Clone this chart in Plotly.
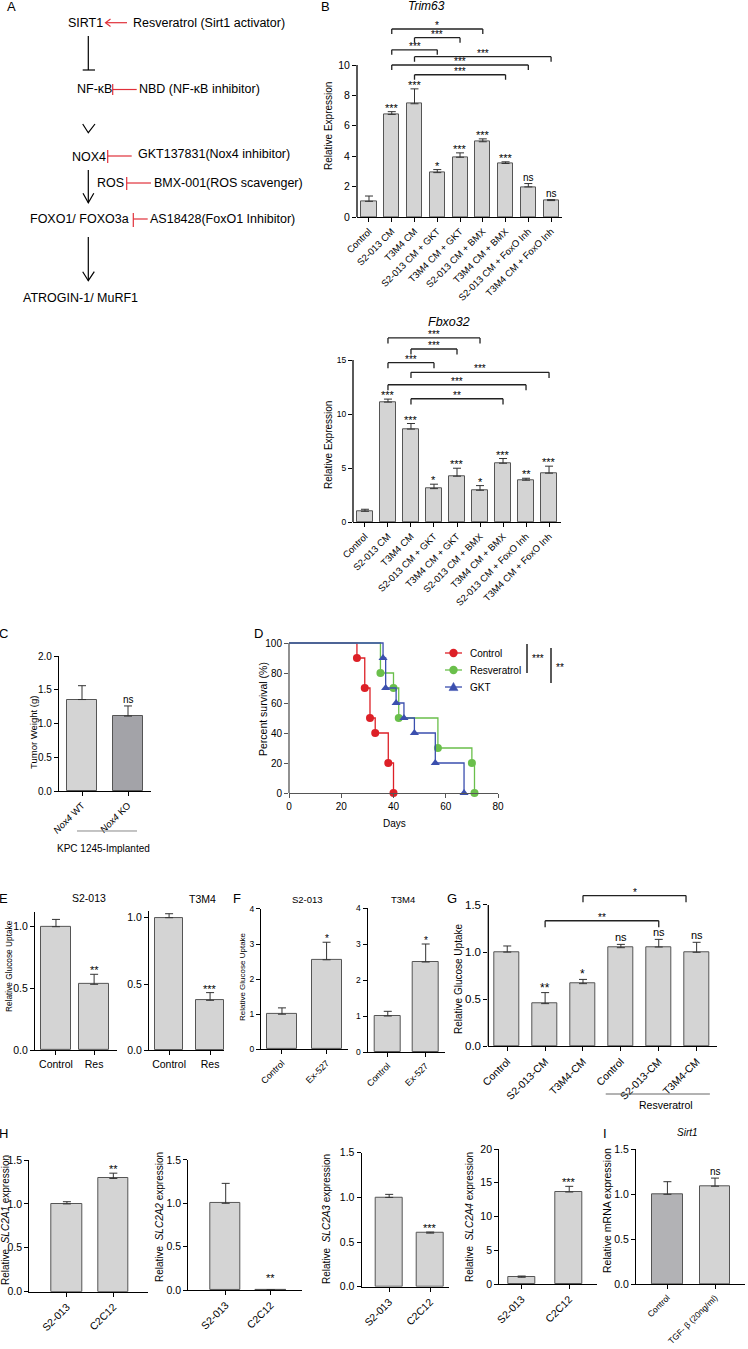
import plotly.graph_objects as go

W, H = 748, 1349
FONT = "Arial, Liberation Sans, Helvetica, sans-serif"

# ---------------- DATA ----------------
# Panel B
b_groups = ["Control", "S2-013 CM", "T3M4 CM", "S2-013 CM + GKT", "T3M4 CM + GKT",
            "S2-013 CM + BMX", "T3M4 CM + BMX", "S2-013 CM + FoxO Inh", "T3M4 CM + FoxO Inh"]
trim63_mean = [1.03, 6.75, 7.45, 2.92, 3.93, 4.95, 3.52, 1.98, 1.08]
trim63_err = [0.35, 0.18, 0.98, 0.20, 0.29, 0.19, 0.11, 0.22, 0.06]
trim63_sig = ["", "***", "***", "*", "***", "***", "***", "ns", "ns"]
trim63_pairs = [(1, 5, 12.37, "*"), (2, 4, 11.8, "***"), (1, 3, 11.0, "***"),
                (2, 8, 10.55, "***"), (1, 7, 10.0, "***"), (2, 6, 9.36, "***")]
fbxo32_mean = [0.99, 11.1, 8.6, 3.09, 4.24, 2.94, 5.44, 3.87, 4.52]
fbxo32_err = [0.19, 0.28, 0.52, 0.41, 0.74, 0.43, 0.44, 0.18, 0.65]
fbxo32_sig = ["", "***", "***", "*", "***", "*", "***", "**", "***"]
fbxo32_pairs = [(1, 5, 17.04, "***"), (2, 4, 16.02, "***"), (1, 3, 14.75, "***"),
                (2, 8, 13.86, "***"), (1, 7, 12.71, "***"), (2, 6, 11.41, "**")]
# Panel C
c_groups = ["<i>Nox4</i> WT", "<i>Nox4</i> KO"]
c_mean = [1.355, 1.11]
c_err = [0.205, 0.15]
c_sig = ["", "ns"]
# Panel D (Kaplan-Meier events)
d_names = ["Control", "Resveratrol", "GKT"]
d_days = [[26, 29, 31, 33, 38, 40],
          [35, 40, 42, 57, 70, 71],
          [36, 37, 41, 44, 48, 56, 67]]
d_surv = [[90, 70, 50, 40, 20, 0],
          [80, 70, 50, 30, 20, 0],
          [90, 70, 60, 50, 40, 20, 0]]
d_xticks = [0, 20, 40, 60, 80]
d_yticks = [0, 20, 40, 60, 80, 100]
# Panel E
e_groups = ["Control", "Res"]
e_s2_mean = [1.0, 0.534]
e_s2_err = [0.059, 0.081]
e_s2_sig = ["", "**"]
e_t3_mean = [1.0, 0.377]
e_t3_err = [0.03, 0.058]
e_t3_sig = ["", "***"]
# Panel F
f_groups = ["Control", "Ex-527"]
f_s2_mean = [1.0, 2.55]
f_s2_err = [0.18, 0.50]
f_t3_mean = [1.0, 2.50]
f_t3_err = [0.13, 0.50]
f_sig = ["", "*"]
# Panel G
g_groups = ["Control", "S2-013-CM", "T3M4-CM", "Control", "S2-013-CM", "T3M4-CM"]
g_mean = [1.0, 0.453, 0.665, 1.047, 1.054, 0.998]
g_err = [0.065, 0.117, 0.045, 0.035, 0.081, 0.106]
g_sig = ["", "**", "*", "ns", "ns", "ns"]
g_pairs = [(1, 4, 1.333, "**"), (2, 4.72, 1.60, "*")]
# Panel H
h_groups = ["S2-013", "C2C12"]
h1_mean, h1_err, h1_sig = [1.0, 1.29], [0.025, 0.06], ["", "**"]
h2_mean, h2_err, h2_sig = [1.0, 0.003], [0.23, 0.0], ["", "**"]
h3_mean, h3_err, h3_sig = [1.0, 0.60], [0.034, 0.012], ["", "***"]
h4_mean, h4_err, h4_sig = [1.0, 13.63], [0.18, 0.84], ["", "***"]
# Panel I
i_groups = ["Control", "TGF- β (20ng/ml)"]
i_mean = [1.0, 1.09]
i_err = [0.14, 0.09]
i_sig = ["", "ns"]

# ---------------- HELPERS ----------------
BAR = "#d4d4d4"
BAR_DARK = "#a3a3a8"
EDGE = "#555555"
layout_axes = {}
shapes = []
annots = []
traces = []


def X(p):
    return p / W


def Y(p):
    return 1 - p / H


def refs(n):
    s = "" if n == 1 else str(n)
    return "xaxis" + s, "yaxis" + s, "x" + s, "y" + s


def add_axes(n, xl, xr_, y0, ppu, ymax, xrange, xtv, xtt, ytv, xangle=-45, xfont=10,
             yfont=10, yline_to=None, yfmt=None, lc="black", lw=1.3, xmin_y=0):
    xa, ya, xr, yr = refs(n)
    layout_axes[xa] = dict(domain=[X(xl), X(xr_)], range=xrange, anchor=yr, showline=True,
                           linecolor=lc, linewidth=lw, ticks="outside", ticklen=4, tickwidth=1,
                           tickcolor=lc, tickvals=xtv, ticktext=xtt, tickangle=xangle,
                           tickfont=dict(size=xfont, color="black", family=FONT),
                           showgrid=False, zeroline=False, fixedrange=True, automargin=False)
    top = y0 - (ymax - xmin_y) * ppu
    yd = dict(domain=[Y(y0), Y(top)], range=[xmin_y, ymax], anchor=xr,
              showline=yline_to is None, linecolor=lc, linewidth=lw, ticks="outside",
              ticklen=4, tickwidth=1, tickcolor=lc, tickvals=ytv,
              tickfont=dict(size=yfont, color="black", family=FONT),
              showgrid=False, zeroline=False, fixedrange=True, automargin=False)
    if yfmt:
        yd["tickformat"] = yfmt
    layout_axes[ya] = yd
    if yline_to is not None:
        shapes.append(dict(type="line", xref=xr + " domain", yref=yr, x0=0, x1=0,
                           y0=xmin_y, y1=yline_to, line=dict(color=lc, width=lw)))
    return xr, yr


def add_bars(xr, yr, means, errs, width, colors=BAR):
    xs = list(range(len(means)))
    traces.append(go.Bar(x=xs, y=means, width=width,
                         marker=dict(color=colors, line=dict(color=EDGE, width=1)),
                         error_y=dict(type="data", symmetric=False, array=errs,
                                      arrayminus=[0] * len(errs), color="#333333",
                                      thickness=1, width=4),
                         xaxis=xr, yaxis=yr, showlegend=False, hoverinfo="skip"))


def add_sig(xr, yr, means, errs, labels, size=10, lift=None):
    for i, (m, e, t) in enumerate(zip(means, errs, labels)):
        if not t:
            continue
        extra = lift[i] if lift else 0
        annots.append(dict(x=i, y=m + e, xref=xr, yref=yr, text=t, showarrow=False,
                           yanchor="bottom", xanchor="center",
                           yshift=(-4 if "*" in t else -1) + extra,
                           font=dict(size=(size + 1 if "*" in t else size), color="black",
                                     family=FONT)))


def add_brackets(xr, yr, pairs, drop, size=10):
    for a, b, y, t in pairs:
        for (x0, y0_, x1, y1) in [(a, y - drop, a, y), (a, y, b, y), (b, y, b, y - drop)]:
            shapes.append(dict(type="line", xref=xr, yref=yr, x0=x0, y0=y0_, x1=x1, y1=y1,
                               line=dict(color="#222222", width=1.3)))
        annots.append(dict(x=(a + b) / 2, y=y, xref=xr, yref=yr, text=t, showarrow=False,
                           yanchor="bottom", xanchor="center", yshift=-4,
                           font=dict(size=size, color="black", family=FONT)))


def text(xp, yp, t, size=10, xanchor="center", angle=0, italic=False, color="black"):
    if italic:
        t = "<i>" + t + "</i>"
    annots.append(dict(x=X(xp), y=Y(yp), xref="paper", yref="paper", text=t,
                       showarrow=False, xanchor=xanchor, yanchor="middle", textangle=angle,
                       font=dict(size=size, color=color, family=FONT)))


def pline(pts, color="black", width=1.2, fill=None):
    path = "M " + " L ".join(f"{X(a):.5f},{Y(b):.5f}" for a, b in pts)
    s = dict(type="path", xref="paper", yref="paper", path=path,
             line=dict(color=color, width=width))
    if fill:
        s["path"] += " Z"
        s["fillcolor"] = fill
    shapes.append(s)


# ---------------- PANEL A (pathway diagram) ----------------
RED = "#e0303a"
text(5, 6, "A", 13, "left")
text(66, 23, "SIRT1", 12.5, "left")
pline([(127, 22.7), (106, 22.7)], RED)
pline([(110.5, 19), (105.5, 22.7), (110.5, 26.4)], RED)
text(131, 23, "Resveratrol (Sirt1 activator)", 12.5, "left")
pline([(88.3, 36), (88.3, 70)])
pline([(82.7, 70), (95, 70)])
text(75, 89.5, "NF-κB", 12.5, "left")
pline([(112.7, 84), (112.7, 95)], RED)
pline([(112.7, 89.5), (136.7, 89.5)], RED)
text(137, 89.5, "NBD (NF-κB inhibitor)", 12.5, "left")
pline([(82.7, 124), (88.3, 132.7), (95, 124)])
text(70, 157, "NOX4", 12.5, "left")
pline([(107.7, 150), (107.7, 163)], RED)
pline([(107.7, 156), (131.7, 156)], RED)
text(135.5, 154.5, "GKT137831(Nox4 inhibitor)", 12.5, "left")
pline([(88.3, 170), (88.3, 202.5)])
pline([(83, 193.3), (88.3, 202.7), (93.8, 193.3)])
text(94.5, 183, "ROS", 12.5, "left")
pline([(126.7, 177), (126.7, 190)], RED)
pline([(126.7, 183), (151, 183)], RED)
text(152, 183, "BMX-001(ROS scavenger)", 12.5, "left")
text(28, 219.5, "FOXO1/ FOXO3a", 12.5, "left")
pline([(133.3, 213), (133.3, 227)], RED)
pline([(133.3, 219), (147.7, 219)], RED)
text(148, 219.5, "AS18428(FoxO1 Inhibitor)", 12.5, "left")
pline([(88.3, 237), (88.3, 280.5)])
pline([(82.7, 271.7), (88.3, 280.7), (94.3, 271.7)])
text(21, 297.5, "ATROGIN-1/ MuRF1", 12.5, "left")

# ---------------- PANEL B ----------------
text(325, 6, "B", 13, "center")
idx9 = list(range(9))
xr, yr = add_axes(1, 357, 562, 217, 15.2, 13.0, [-0.527, 8.48], idx9, b_groups,
                  [0, 2, 4, 6, 8, 10], xfont=9.5, yfont=10.5, yline_to=10)
add_bars(xr, yr, trim63_mean, trim63_err, 0.66)
add_sig(xr, yr, trim63_mean, trim63_err, trim63_sig, 10)
add_brackets(xr, yr, trim63_pairs, 0.33, 10)
text(427, 6, "Trim63", 12, italic=True)
text(329, 126, "Relative Expression", 10, angle=-90)

xr, yr = add_axes(2, 353, 561, 522, 10.8, 18.4, [-0.52, 8.52], idx9, b_groups,
                  [0, 5, 10, 15], xfont=9.5, yfont=8.5, yline_to=15)
add_bars(xr, yr, fbxo32_mean, fbxo32_err, 0.66)
add_sig(xr, yr, fbxo32_mean, fbxo32_err, fbxo32_sig, 10)
add_brackets(xr, yr, fbxo32_pairs, 0.52, 10)
text(449, 322, "Fbxo32", 12.5, italic=True)
text(328, 445, "Relative Expression", 10, angle=-90)

# ---------------- PANEL C ----------------
text(4, 634, "C", 13, "center")
xr, yr = add_axes(3, 59, 151, 791, 67.5, 2.0, [-0.5, 1.5], [0, 1], c_groups,
                  [0, 0.5, 1.0, 1.5, 2.0], xfont=9.5, yfont=10, yfmt=".1f")
add_bars(xr, yr, c_mean, c_err, 0.65, [BAR, BAR_DARK])
add_sig(xr, yr, c_mean, c_err, c_sig, 10)
text(33, 733, "Tumor Weight (g)", 9.5, angle=-90)
pline([(77, 831), (137, 831)], "#888888", 1)
text(103, 848, "KPC 1245-Implanted", 10)

# ---------------- PANEL D ----------------
text(258, 634, "D", 13, "center")
xr, yr = add_axes(4, 289, 498, 793, 1.5, 102, [0, 80], d_xticks, [str(v) for v in d_xticks],
                  d_yticks, xangle=0, xfont=10, yfont=10, yline_to=100, lc="#555555")
d_colors = ["#dd2027", "#6abf4b", "#3b4fae"]
d_symbols = ["circle", "circle", "triangle-up"]
for k, (name, days, surv, col, sym) in enumerate(zip(d_names, d_days, d_surv, d_colors, d_symbols)):
    traces.append(go.Scatter(x=[0] + days, y=[100] + surv, mode="lines", line_shape="hv",
                             line=dict(color=col, width=1.3), xaxis=xr, yaxis=yr,
                             showlegend=False, hoverinfo="skip"))
    traces.append(go.Scatter(x=days, y=surv, mode="markers", cliponaxis=False,
                             marker=dict(color=col, size=8, symbol=sym), xaxis=xr, yaxis=yr,
                             showlegend=False, hoverinfo="skip"))
    # legend entry
    ly = 653 + 17 * k
    pline([(445, ly), (462, ly)], col, 1.3)
    if sym == "circle":
        shapes.append(dict(type="circle", xref="paper", yref="paper",
                           x0=X(449.3), x1=X(457.7), y0=Y(ly + 4.2), y1=Y(ly - 4.2),
                           fillcolor=col, line=dict(color=col, width=0)))
    else:
        pline([(449, ly + 3.6), (453.5, ly - 4.6), (458, ly + 3.6)], col, 0.5, fill=col)
    text(468, ly, name, 10, "left")
text(263, 709, "Percent survival (%)", 10.5, angle=-90)
text(394, 823, "Days", 10)
pline([(527, 644), (527, 673)], "black", 1.3)
text(530, 658, "***", 10, "left")
pline([(551, 648), (551, 683)], "black", 1.3)
text(554, 667, "**", 10, "left")

# ---------------- PANEL E ----------------
text(4, 898, "E", 13, "center")
xr, yr = add_axes(5, 35, 117, 1050.3, 123.6, 1.12, [-0.55, 1.6], [0, 1], e_groups,
                  [0, 0.5, 1.0], xangle=0, xfont=10.5, yfont=10.5, yfmt=".1f")
add_bars(xr, yr, e_s2_mean, e_s2_err, 0.79)
add_sig(xr, yr, e_s2_mean, e_s2_err, e_s2_sig, 10)
text(89, 898, "S2-013", 10.5)
text(9, 966, "Relative Glucose Uptake", 8.3, angle=-90)
xr, yr = add_axes(6, 149, 224, 1050.3, 132.6, 1.05, [-0.49, 1.34], [0, 1], e_groups,
                  [0, 0.5, 1.0], xangle=0, xfont=10.5, yfont=10.5, yfmt=".1f")
add_bars(xr, yr, e_t3_mean, e_t3_err, 0.68)
add_sig(xr, yr, e_t3_mean, e_t3_err, e_t3_sig, 10)
text(202, 899, "T3M4", 10.5)

# ---------------- PANEL F ----------------
text(237, 898, "F", 13, "center")
xr, yr = add_axes(7, 261, 348, 1049.3, 35.1, 4, [-0.47, 1.48], [0, 1], f_groups,
                  [0, 1, 2, 3, 4], xfont=9, yfont=8.5)
add_bars(xr, yr, f_s2_mean, f_s2_err, 0.67)
add_sig(xr, yr, f_s2_mean, f_s2_err, f_sig, 9)
text(307, 899, "S2-013", 9.5)
text(242, 977, "Relative Glucose Uptake", 8, angle=-90)
xr, yr = add_axes(8, 367.7, 445, 1052, 36, 4, [-0.53, 1.51], [0, 1], f_groups,
                  [0, 1, 2, 3, 4], xfont=9, yfont=8.5)
add_bars(xr, yr, f_t3_mean, f_t3_err, 0.68)
add_sig(xr, yr, f_t3_mean, f_t3_err, f_sig, 9)
text(403, 899, "T3M4", 9.5)

# ---------------- PANEL G ----------------
text(452, 898, "G", 13, "center")
xr, yr = add_axes(9, 488.3, 716.7, 1046.3, 94.2, 1.72, [-0.5, 5.53], list(range(6)), g_groups,
                  [0, 0.5, 1.0, 1.5], xfont=10.5, yfont=11.5, yline_to=1.5, yfmt=".1f")
add_bars(xr, yr, g_mean, g_err, 0.66)
add_sig(xr, yr, g_mean, g_err, g_sig, 11)
add_brackets(xr, yr, g_pairs, 0.07, 10)
text(458, 979, "Relative Glucose Uptake", 10, angle=-90)
shapes.append(dict(type="line", xref=xr, yref="paper", x0=2.6, x1=5.35, y0=Y(1094), y1=Y(1094),
                   line=dict(color="#666666", width=1)))
text(666, 1105, "Resveratrol", 10.5)

# ---------------- PANEL H ----------------
text(4, 1133, "H", 13, "center")
h_specs = [
    (10, 29.3, 147.7, 1291.7, 87.8, [-0.81, 1.74], h1_mean, h1_err, h1_sig, 0.66, "SLC2A1", 5, 1220, None),
    (11, 188.3, 302.3, 1290, 86.7, [-0.83, 1.70], h2_mean, h2_err, h2_sig, 0.67, "SLC2A2", 159, 1217, [0, 8]),
    (12, 361.7, 449, 1286.7, 89.3, [-0.67, 1.46], h3_mean, h3_err, h3_sig, 0.64, "SLC2A3", 326, 1219, None),
]
for n, xl, xrr, y0, ppu, rng, m, e, s, bw, gene, tx, ty, lift in h_specs:
    xr, yr = add_axes(n, xl, xrr, y0, ppu, 1.5, rng, [0, 1], h_groups, [0, 0.5, 1.0, 1.5],
                      xfont=10.5, yfont=10.5, yfmt=".1f")
    add_bars(xr, yr, m, e, bw)
    add_sig(xr, yr, m, e, s, 10, lift)
    text(tx, ty, "Relative  <i>" + gene + "</i> expression", 10, angle=-90)
xr, yr = add_axes(13, 499.3, 597.3, 1284, 6.75, 20, [-0.47, 1.59], [0, 1], h_groups,
                  [0, 5, 10, 15, 20], xfont=10.5, yfont=10.5)
add_bars(xr, yr, h4_mean, h4_err, 0.57)
add_sig(xr, yr, h4_mean, h4_err, h4_sig, 10)
text(469, 1217, "Relative  <i>SLC2A4</i> expression", 10, angle=-90)

# ---------------- PANEL I ----------------
text(605, 1133, "I", 13, "center")
xr, yr = add_axes(14, 636, 745, 1284.3, 90, 1.5, [-0.66, 1.63], [0, 1], i_groups,
                  [0, 0.5, 1.0, 1.5], xfont=8.5, yfont=10.5, yfmt=".1f")
add_bars(xr, yr, i_mean, i_err, 0.64, ["#b2b2b5", BAR])
add_sig(xr, yr, i_mean, i_err, i_sig, 10)
text(687, 1132, "Sirt1", 10, italic=True)
text(607, 1211, "Relative mRNA expression", 10.5, angle=-90)

# ---------------- FIGURE ----------------
fig = go.Figure(data=traces)
fig.update_layout(
    width=W, height=H, autosize=False,
    margin=dict(l=0, r=0, t=0, b=0, pad=0, autoexpand=False),
    paper_bgcolor="white", plot_bgcolor="rgba(0,0,0,0)",
    font=dict(family=FONT, color="black", size=10),
    showlegend=False,
    shapes=shapes, annotations=annots, bargap=0,
    **layout_axes,
)
fig.write_html(
    "out.html",
    config={"displayModeBar": False},
    post_script="document.body.style.margin='0';document.body.style.padding='0';"
                "document.body.style.overflow='hidden';",
)
